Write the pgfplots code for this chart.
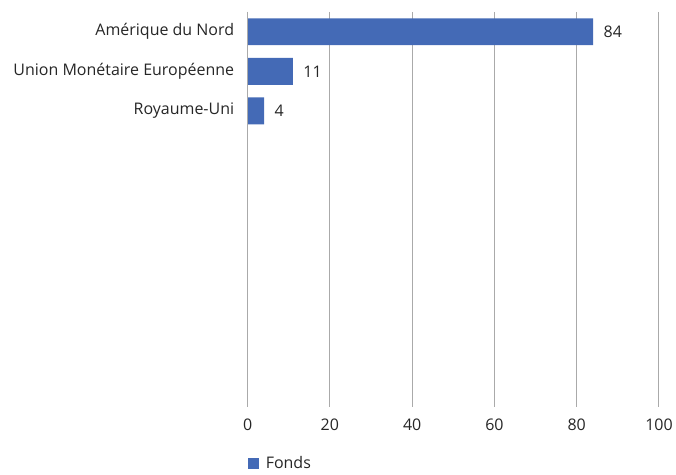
\documentclass[border=0pt]{standalone}
\usepackage{pgfplots}
\pgfplotsset{compat=1.18}
\usepackage{fontspec}
\setmainfont{Open Sans}
\definecolor{barblue}{RGB}{68,106,182}
\definecolor{gridgray}{RGB}{170,170,170}
\newcommand{\lblfont}{\fontsize{16}{19}\selectfont}
\begin{document}
\begin{tikzpicture}[x=1pt,y=1pt]
\begin{axis}[
  name=ax,
  scale only axis,
  width=412pt, height=396pt,
  xbar,
  xmin=0, xmax=100,
  ymin=-0.5, ymax=9.5,
  y dir=reverse,
  bar width=27pt,
  xtick={0,20,40,60,80,100},
  ytick={0,1,2},
  yticklabels={Amérique du Nord, Union Monétaire Européenne, Royaume-Uni},
  major tick length=0pt,
  xmajorgrids,
  grid style={gridgray, line width=1pt},
  axis line style={draw=none},
  xticklabel style={yshift=-8pt},
  yticklabel style={xshift=-10pt},
  /pgf/number format/assume math mode=true,
  font=\lblfont,
  tick label style={font=\lblfont, text=black!85},
  nodes near coords,
  nodes near coords style={font=\lblfont, text=black!85, xshift=7pt},
  every node near coord/.append style={anchor=west},
  legend style={at={(0,0)}, anchor=north west, yshift=-45pt, xshift=-3pt, draw=none, font=\lblfont, text=black!85},
  legend image code/.code={\fill[barblue] (0pt,-5.5pt) rectangle (11pt,5.5pt);},
  legend cell align=left,
  clip=false,
]
\addplot[fill=barblue, draw=none] coordinates {(84,0) (11,1) (4,2)};
\addlegendentry{\hspace{5pt}Fonds}
\draw[gridgray, line width=1pt] (axis cs:0,-0.5) -- (axis cs:0,9.5);
\end{axis}
\path[use as bounding box] (ax.south west) ++(-248pt,-67pt) rectangle ++(676pt,475pt);
\end{tikzpicture}
\end{document}
